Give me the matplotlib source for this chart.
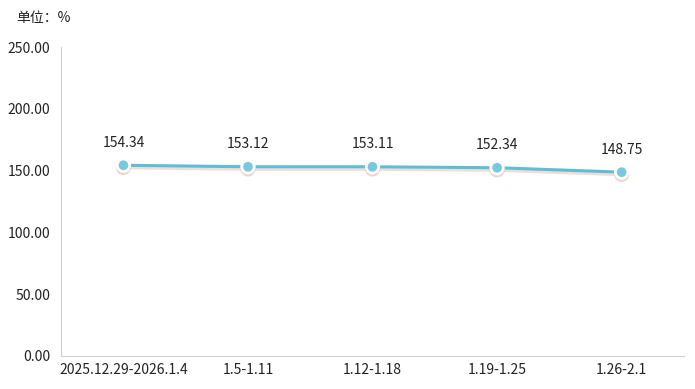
import matplotlib
matplotlib.use('Agg')
import matplotlib.pyplot as plt
import matplotlib.patheffects as pe

plt.rcParams['font.family'] = ['Noto Sans CJK SC', 'DejaVu Sans']

# data
weeks = ['2025.12.29-2026.1.4', '1.5-1.11', '1.12-1.18', '1.19-1.25', '1.26-2.1']
values = [154.34, 153.12, 153.11, 152.34, 148.75]
yticks = [0, 50, 100, 150, 200, 250]

fig = plt.figure(figsize=(6.95, 3.89), dpi=100)
ax = fig.add_axes([0.088, 0.085, 0.896, 0.794])

x = list(range(len(weeks)))
ax.plot(x, values, color='#5bbfd8', lw=2.2, zorder=2,
        path_effects=[pe.SimpleLineShadow(offset=(0, -1.2), shadow_color='#e8b0a4', alpha=0.45, linewidth=3.5),
                      pe.Normal()])
ax.plot(x, values, 'o', ms=9, mfc='#78c8de', mec='white', mew=2, zorder=3,
        path_effects=[pe.SimpleLineShadow(offset=(0, -1.5), shadow_color='#e0a898', alpha=0.5), pe.Normal()])

for xi, v in zip(x, values):
    ax.annotate('%.2f' % v, (xi, v), xytext=(0, 11), textcoords='offset points',
                ha='center', va='bottom', fontsize=10, color='#222222')

ax.set_xlim(-0.5, len(weeks) - 0.5)
ax.set_ylim(0, 250)
ax.set_yticks(yticks)
ax.set_yticklabels(['%.2f' % t for t in yticks])
ax.set_xticks(x)
ax.set_xticklabels(weeks)
ax.tick_params(length=0, labelsize=10, colors='#222222', pad=5)
ax.tick_params(axis='y', pad=8)

for s in ['top', 'right']:
    ax.spines[s].set_visible(False)
ax.spines['left'].set_color('#d0d0d0')
ax.spines['bottom'].set_color('#d0d0d0')

fig.text(0.024, 0.955, '单位：%', fontsize=10, color='#222222', va='center')

fig.savefig('out.png', dpi=100)
